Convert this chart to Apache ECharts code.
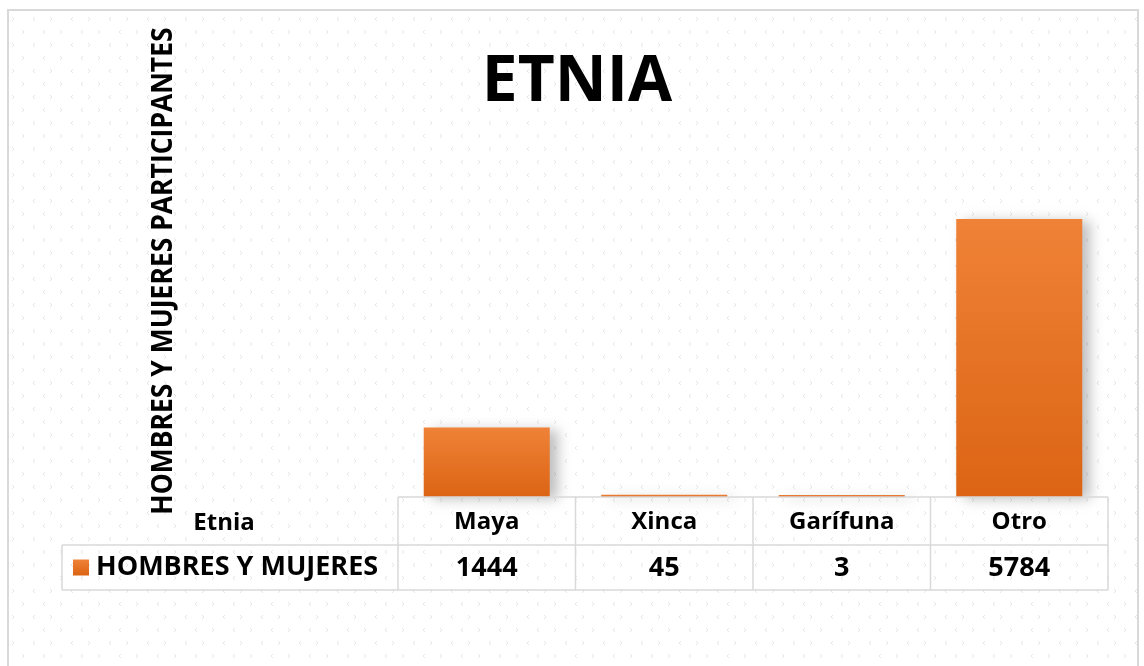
<!DOCTYPE html>
<html>
<head>
<meta charset="utf-8">
<script src="https://cdn.jsdelivr.net/npm/echarts@6/dist/echarts.min.js"></script>
<style>
  html, body { margin: 0; padding: 0; background: #fff; }
  #chart { width: 1144px; height: 666px; }
</style>
</head>
<body>
<div id="chart"></div>
<script>
// datos
const categorias = ['Maya', 'Xinca', 'Garífuna', 'Otro'];
const valores = [1444, 45, 3, 5784];
const serieNombre = 'HOMBRES Y MUJERES';
const ejeNombre = 'HOMBRES Y MUJERES PARTICIPANTES';

const fontFam = '"Open Sans", Lato, sans-serif';

// medidas del area de trazado (tambien usadas para la tabla)
const gridLeft = 398;
const gridRight = 1108;
const gridTop = 112.5;
const gridBottom = 497;
const rowH1 = 48;
const rowH2 = 45;

// fondo punteado
const patron = document.createElement('canvas');
patron.width = 38;
patron.height = 26;
const pc = patron.getContext('2d');
pc.strokeStyle = '#e6e6e6';
pc.lineWidth = 1;
const marca = (x, y, dir) => {
  pc.beginPath();
  pc.moveTo(x + 2 * dir, y - 2);
  pc.lineTo(x, y);
  pc.lineTo(x + 2 * dir, y + 2);
  pc.stroke();
};
marca(5, 6, 1); marca(24, 6, -1);
marca(14, 19, -1); marca(33, 19, 1);

const chart = echarts.init(document.getElementById('chart'));

// lineas de la tabla
const lineaStyle = { stroke: '#d9d9d9', lineWidth: 1.5 };
const paso = (gridRight - gridLeft) / categorias.length;
const lineas = [];
const y0 = gridBottom, y1 = gridBottom + rowH1, y2 = gridBottom + rowH1 + rowH2;
lineas.push({ type: 'line', shape: { x1: gridLeft, y1: y0, x2: gridRight, y2: y0 }, style: lineaStyle, z: 5 });
lineas.push({ type: 'line', shape: { x1: 62, y1: y1, x2: gridRight, y2: y1 }, style: lineaStyle, z: 5 });
lineas.push({ type: 'line', shape: { x1: 62, y1: y2, x2: gridRight, y2: y2 }, style: lineaStyle, z: 5 });
lineas.push({ type: 'line', shape: { x1: 62, y1: y1, x2: 62, y2: y2 }, style: lineaStyle, z: 5 });
for (let i = 0; i <= categorias.length; i++) {
  const x = gridLeft + paso * i;
  lineas.push({ type: 'line', shape: { x1: x, y1: y0, x2: x, y2: y2 }, style: lineaStyle, z: 5 });
}

const option = {
  animation: false,
  title: {
    text: 'ETNIA',
    left: 572,
    top: 46,
    textAlign: 'center',
    textStyle: { fontFamily: fontFam, fontWeight: 'bold', fontSize: 64, color: '#000' }
  },
  legend: {
    data: [serieNombre],
    left: 68,
    top: 549,
    icon: 'rect',
    itemWidth: 16,
    itemHeight: 16,
    textStyle: { fontFamily: fontFam, fontWeight: 'bold', fontSize: 27, color: '#000', padding: [0, 0, 0, 2] }
  },
  grid: {
    left: gridLeft,
    right: 1144 - gridRight,
    top: gridTop,
    bottom: 666 - gridBottom
  },
  xAxis: [
    {
      type: 'category',
      data: categorias,
      axisLine: { show: false },
      axisTick: { show: false },
      axisLabel: { margin: 13, fontFamily: fontFam, fontWeight: 'bold', fontSize: 24, color: '#000' }
    },
    {
      type: 'category',
      position: 'bottom',
      offset: rowH1,
      data: valores.map(v => String(v)),
      axisLine: { show: false },
      axisTick: { show: false },
      axisLabel: { margin: 10, fontFamily: fontFam, fontWeight: 'bold', fontSize: 27, color: '#000' }
    }
  ],
  yAxis: { type: 'value', min: 0, max: 8000, show: false },
  series: [
    {
      name: serieNombre,
      type: 'bar',
      data: valores,
      barWidth: '71%',
      barMinHeight: 2,
      itemStyle: {
        color: new echarts.graphic.LinearGradient(0, 0, 0, 1, [
          { offset: 0, color: '#ef8237' },
          { offset: 1, color: '#dc6414' }
        ]),
        shadowColor: 'rgba(0,0,0,0.25)',
        shadowBlur: 12,
        shadowOffsetX: 8,
        shadowOffsetY: 2
      }
    }
  ],
  graphic: [
    {
      type: 'rect',
      shape: { x: 8, y: 10, width: 1130, height: 680 },
      style: { fill: { image: patron, repeat: 'repeat' }, stroke: '#d9d9d9', lineWidth: 2 },
      z: -10,
      silent: true
    },
    {
      type: 'text',
      x: 164,
      y: 271,
      rotation: Math.PI / 2,
      scaleY: 1.1,
      style: {
        text: ejeNombre,
        fontFamily: fontFam,
        fontWeight: 'bold',
        fontSize: 26.5,
        fill: '#000',
        align: 'center',
        verticalAlign: 'middle'
      },
      z: 10
    },
    {
      type: 'text',
      x: 224,
      y: 523,
      style: {
        text: 'Etnia',
        fontFamily: fontFam,
        fontWeight: 'bold',
        fontSize: 24,
        fill: '#000',
        align: 'center',
        verticalAlign: 'middle'
      },
      z: 10
    }
  ].concat(lineas)
};

chart.setOption(option);
</script>
</body>
</html>
